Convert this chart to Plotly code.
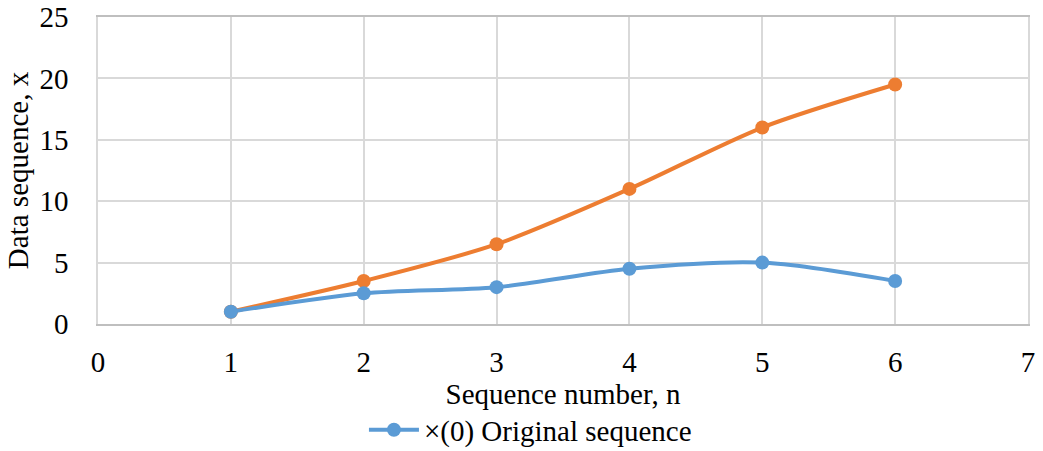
import plotly.graph_objects as go

# Sequence numbers and the two data series
n = [1, 2, 3, 4, 5, 6]
x0_original = [1, 2.5, 3, 4.5, 5, 3.5]
x1_accumulated = [1, 3.5, 6.5, 11, 16, 19.5]

x_ticks = [0, 1, 2, 3, 4, 5, 6, 7]
y_ticks = [0, 5, 10, 15, 20, 25]

BLUE = "#5b9bd5"
ORANGE = "#ed7d31"
FONT = "Liberation Serif, Times New Roman, serif"
FS = 29

fig = go.Figure()

fig.add_trace(go.Scatter(
    x=n, y=x1_accumulated, mode="lines+markers",
    line=dict(color=ORANGE, width=4, shape="spline", smoothing=0.8),
    marker=dict(color=ORANGE, size=14),
    showlegend=False,
))
fig.add_trace(go.Scatter(
    x=n, y=x0_original, mode="lines+markers",
    name="×(0) Original sequence",
    line=dict(color=BLUE, width=4, shape="spline", smoothing=0.8),
    marker=dict(color=BLUE, size=14),
))

fig.update_layout(
    width=1043, height=451,
    margin=dict(l=98, r=15, t=17, b=127, autoexpand=False),
    paper_bgcolor="white", plot_bgcolor="white",
    font=dict(family=FONT, size=FS, color="#000000"),
    legend=dict(orientation="h", x=0.465, xanchor="center", y=-0.345, yanchor="middle",
                font=dict(size=FS), itemwidth=50, tracegroupgap=0),
    xaxis=dict(
        range=[0, 7], tickvals=x_ticks, showgrid=True, gridcolor="#d9d9d9", gridwidth=1.5,
        showline=True, linecolor="#bfbfbf", linewidth=1.5, mirror=True, zeroline=False,
        ticks="", ticklabelstandoff=11, automargin=False,
        title=dict(text="Sequence number, n", standoff=0, font=dict(size=FS)),
    ),
    yaxis=dict(
        range=[0, 25], tickvals=y_ticks, showgrid=True, gridcolor="#d9d9d9", gridwidth=1.5,
        showline=True, linecolor="#d9d9d9", linewidth=1.5, mirror=True, zeroline=False,
        ticks="", ticklabelstandoff=22, automargin=False,
        title=dict(text="Data sequence, x", standoff=2, font=dict(size=FS)),
    ),
)

fig.write_html("out.html")
